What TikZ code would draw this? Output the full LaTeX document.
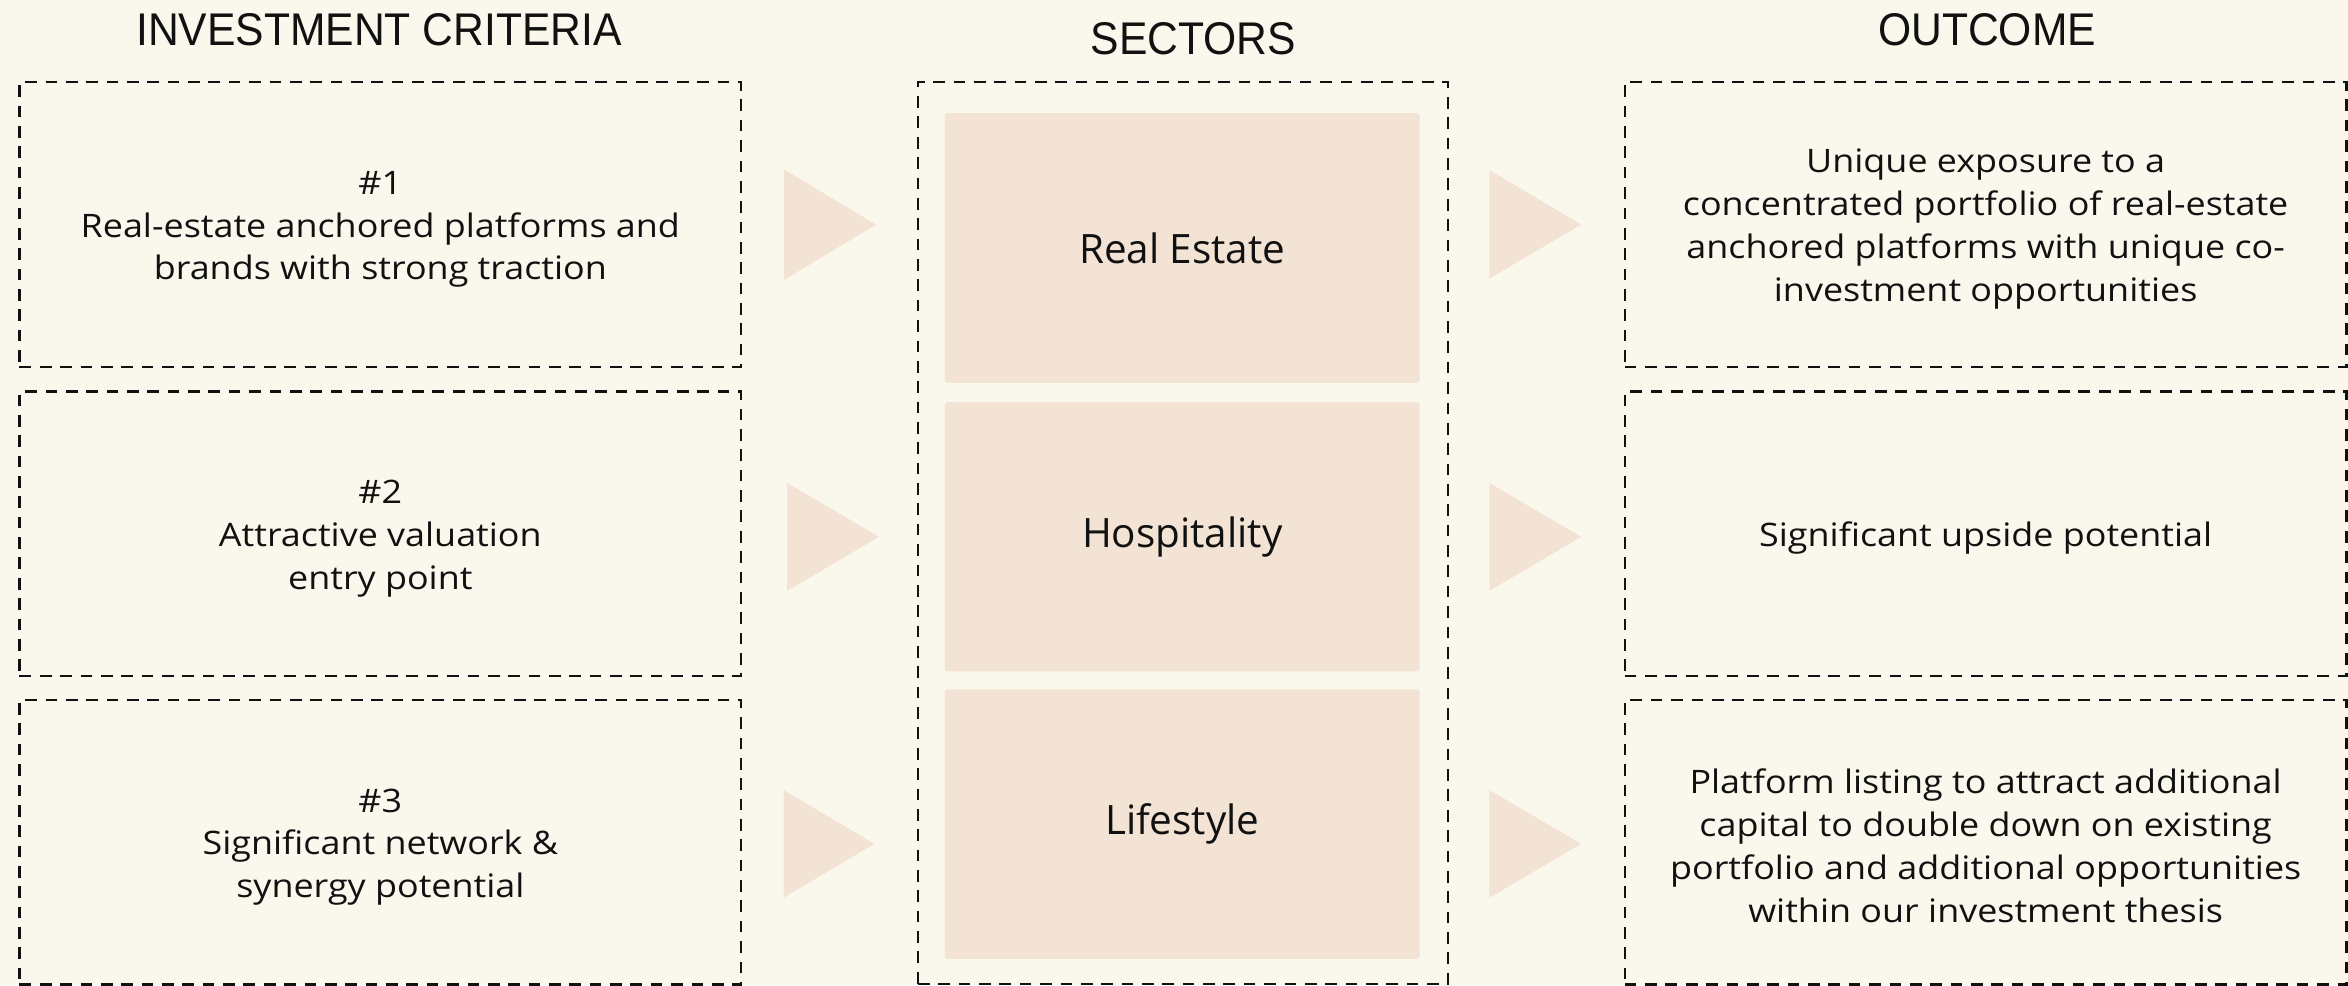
\documentclass[tikz,border=0pt]{standalone}
\usepackage{fontspec}
\setmainfont{Open Sans}
\newfontfamily\bodyfont{Open Sans}[FakeStretch=1.11]
\newfontfamily\headfont{Liberation Sans}[FakeStretch=0.93]
\definecolor{bgc}{RGB}{250,248,236}
\definecolor{fillc}{RGB}{243,227,212}
\definecolor{inkc}{RGB}{17,17,17}
\tikzset{
  dashbox/.style={draw=inkc, line width=0.75pt, dash pattern=on 3.9pt off 2.9pt, minimum width=241pt, minimum height=95pt, inner sep=0pt},
  bodytext/.style={align=center, inner sep=0pt, text=inkc, font=\bodyfont\fontsize{10.8pt}{14.3pt}\selectfont},
  sectorbox/.style={fill=fillc, rounded corners=1pt, minimum width=158.5pt, minimum height=90pt, inner sep=0pt, text=inkc, font=\fontsize{13.5pt}{16pt}\selectfont},
  headtext/.style={text=inkc, font=\headfont\fontsize{15.3pt}{18pt}\selectfont, inner sep=0pt},
  tri/.style={fill=fillc}
}
\begin{document}
\begin{tikzpicture}[x=0.5pt,y=-0.5pt]
\fill[bgc] (0,0) rectangle (1568,658);
\useasboundingbox (0,0) rectangle (1568,658);
% headers
\node[headtext] (h1) at (253,20) {INVESTMENT CRITERIA};
\node[headtext] (h2) at (797,26) {SECTORS};
\node[headtext] (h3) at (1327,20) {OUTCOME};
% left column
\node[dashbox] (c1) at (254,150) {};
\node[dashbox] (c2) at (254,356.5) {};
\node[dashbox] (c3) at (254,562.5) {};
\node[bodytext] (c1t) at ([yshift=-1.6pt]c1.center) {\#1\\Real-estate anchored platforms and\\brands with strong traction};
\node[bodytext] (c2t) at ([yshift=-1.6pt]c2.center) {\#2\\Attractive valuation\\entry point};
\node[bodytext] (c3t) at ([yshift=-1.6pt]c3.center) {\#3\\Significant network \&\\synergy potential};
% middle column
\node[dashbox, minimum width=177pt, minimum height=301pt] (sec) at (790,356) {};
\node[sectorbox] (s1) at (789.5,165.6) {Real Estate};
\node[sectorbox] (s2) at (789.5,358.4) {Hospitality};
\node[sectorbox] (s3) at (789.5,550.3) {Lifestyle};
% right column
\node[dashbox] (o1) at (1326,150) {};
\node[dashbox] (o2) at (1326,356.5) {};
\node[dashbox] (o3) at (1326,562.5) {};
\node[bodytext] (o1t) at ([yshift=-1.5pt]o1.center) {Unique exposure to a\\concentrated portfolio of real-estate\\anchored platforms with unique co-\\investment opportunities};
\node[bodytext] (o2t) at ([yshift=-1.5pt]o2.center) {Significant upside potential};
\node[bodytext] (o3t) at ([yshift=-1.2pt]o3.center) {Platform listing to attract additional\\capital to double down on existing\\portfolio and additional opportunities\\within our investment thesis};
% triangles
\fill[tri] (523.5,113) -- (585,150) -- (523.5,187) -- cycle;
\fill[tri] (525.6,322.5) -- (587,358.5) -- (525.6,394.6) -- cycle;
\fill[tri] (523.3,527.6) -- (584,563.5) -- (523.3,599.5) -- cycle;
\fill[tri] (994.6,113.5) -- (1056,150) -- (994.6,186) -- cycle;
\fill[tri] (994.6,322.5) -- (1056,358.5) -- (994.6,394.6) -- cycle;
\fill[tri] (994.6,527.6) -- (1056,563.5) -- (994.6,599.5) -- cycle;
\end{tikzpicture}
\end{document}
